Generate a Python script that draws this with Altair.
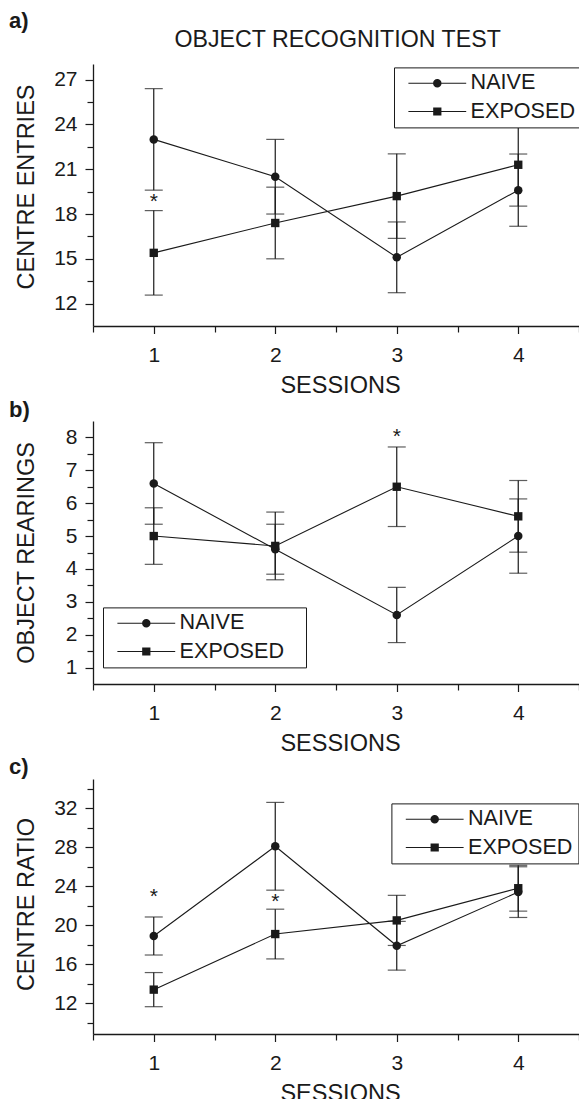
import altair as alt
import pandas as pd

# ---------------- data ----------------
sessions = [1, 2, 3, 4]
groups = ["NAIVE", "EXPOSED"]

# a) centre entries
a_naive_mean = [23.0, 20.5, 15.1, 19.6]
a_naive_err = [3.4, 2.5, 2.37, 2.42]
a_exposed_mean = [15.4, 17.4, 19.2, 21.3]
a_exposed_err = [2.83, 2.4, 2.83, 2.77]
a_star_session = [1]
a_star_value = [19.0]

# b) object rearings
b_naive_mean = [6.6, 4.6, 2.6, 5.0]
b_naive_err = [1.24, 0.76, 0.84, 1.13]
b_exposed_mean = [5.0, 4.7, 6.5, 5.6]
b_exposed_err = [0.86, 1.03, 1.21, 1.09]
b_star_session = [3]
b_star_value = [8.1]

# c) centre ratio
c_naive_mean = [18.9, 28.1, 17.9, 23.4]
c_naive_err = [1.95, 4.5, 2.5, 2.6]
c_exposed_mean = [13.4, 19.1, 20.5, 23.8]
c_exposed_err = [1.75, 2.55, 2.57, 2.35]
c_star_session = [1, 2]
c_star_value = [23.2, 22.6]

x_ticks = [0.5, 1, 1.5, 2, 2.5, 3, 3.5, 4, 4.5]
a_y_ticks = [12, 13.5, 15, 16.5, 18, 19.5, 21, 22.5, 24, 25.5, 27]
b_y_ticks = [1, 1.5, 2, 2.5, 3, 3.5, 4, 4.5, 5, 5.5, 6, 6.5, 7, 7.5, 8]
c_y_ticks = [10, 12, 14, 16, 18, 20, 22, 24, 26, 28, 30, 32, 34]

# ---------------- style ----------------
INK = "#1a1a1a"
FONT = "Liberation Sans"
W = 486

# legend keys: line - marker - line (filled shapes, unit = sqrt(size)/2 px)
CIRCLE_PATH = ("M-6.8,-0.13L-0.9,-0.13L-0.9,0.13L-6.8,0.13Z"
               "M0.9,-0.13L6.8,-0.13L6.8,0.13L0.9,0.13Z"
               "M1,0A1,1,0,1,1,-1,0A1,1,0,1,1,1,0Z")
SQUARE_PATH = ("M-6.8,-0.13L-0.9,-0.13L-0.9,0.13L-6.8,0.13Z"
               "M0.9,-0.13L6.8,-0.13L6.8,0.13L0.9,0.13Z"
               "M-0.97,-0.97L0.97,-0.97L0.97,0.97L-0.97,0.97Z")


def panel(naive_mean, naive_err, exp_mean, exp_err, star_s, star_v,
          ydomain, yticks, ymod, ytitle, title_y, height,
          legend_x, legend_y, label_pad, tag, tag_y, heading=None):
    df = pd.DataFrame({
        "session": sessions * 2,
        "group": [groups[0]] * 4 + [groups[1]] * 4,
        "mean": naive_mean + exp_mean,
        "err": naive_err + exp_err,
    })
    df["lo"] = df["mean"] - df["err"]
    df["hi"] = df["mean"] + df["err"]

    xsc = alt.Scale(domain=[0.5, 4.5], nice=False, zero=False)
    ysc = alt.Scale(domain=ydomain, nice=False, zero=False)

    x_axis = alt.Axis(
        values=x_ticks, title="SESSIONS",
        labelExpr="datum.value % 1 == 0 ? format(datum.value, 'd') : ''",
        tickSize={"condition": {"test": "datum.value % 1 != 0", "value": 6}, "value": 7.5},
        labelBaseline="alphabetic", labelPadding=28, labelOverlap=False,
        labelFlush=False,
        titleX=247, titleY=66, titleBaseline="alphabetic",
        titleAlign="center",
    )
    y_axis = alt.Axis(
        values=yticks, title=ytitle,
        labelExpr=f"datum.value % {ymod} == 0 ? format(datum.value, 'd') : ''",
        tickSize={"condition": {"test": f"datum.value % {ymod} != 0", "value": 6}, "value": 8},
        labelPadding=8, labelOverlap=False,
        titleX=-60, titleY=title_y, titleAngle=270, titleAlign="center",
        titleBaseline="alphabetic",
    )

    X = alt.X("session:Q", scale=xsc, axis=x_axis, title="SESSIONS")

    def Y(field):
        return alt.Y(field, scale=ysc, axis=y_axis, title=ytitle)

    base = alt.Chart(df)
    lines = base.mark_line(color=INK, strokeWidth=1.1).encode(
        x=X, y=Y("mean:Q"), detail="group:N")
    bars = base.mark_rule(color=INK, strokeWidth=1.2).encode(
        x=X, y=Y("lo:Q"), y2="hi:Q")
    cap_hi = base.mark_tick(orient="horizontal", size=18, thickness=1.2, color=INK).encode(
        x=X, y=Y("hi:Q"))
    cap_lo = base.mark_tick(orient="horizontal", size=18, thickness=1.2, color=INK).encode(
        x=X, y=Y("lo:Q"))
    pts_n = base.transform_filter(alt.datum.group == groups[0]).mark_point(
        shape="circle", filled=True, color=INK, size=72, opacity=1).encode(x=X, y=Y("mean:Q"))
    pts_e = base.transform_filter(alt.datum.group == groups[1]).mark_point(
        shape="square", filled=True, color=INK, size=70, opacity=1).encode(x=X, y=Y("mean:Q"))
    label_expr = f"datum.label + '{label_pad}'" if label_pad else "datum.label"
    leg = base.mark_point(filled=False, color=INK, fill=INK, stroke=INK, strokeWidth=0,
                          opacity=0).encode(
        x=X, y=Y("mean:Q"),
        shape=alt.Shape(
            "group:N",
            scale=alt.Scale(domain=groups, range=[CIRCLE_PATH, SQUARE_PATH]),
            legend=alt.Legend(
                orient="none", legendX=legend_x, legendY=legend_y, title=None,
                direction="vertical", padding=5, strokeColor=INK, fillColor="white",
                labelFont=FONT, labelFontSize=21.6, labelColor=INK, labelOffset=22.5,
                rowPadding=5.3, symbolSize=72.25, symbolStrokeWidth=0,
                symbolOffset=27.5, symbolOpacity=1, symbolFillColor=INK,
                symbolStrokeColor=INK, labelExpr=label_expr,
                cornerRadius=0,
            )))

    stars = alt.Chart(pd.DataFrame({"session": star_s, "value": star_v})).mark_text(
        text="*", font=FONT, fontSize=21, baseline="alphabetic", dy=8.5, color=INK
    ).encode(x=X, y=Y("value:Q"))

    tag_df = pd.DataFrame({"t": [tag]})
    tag_mark = alt.Chart(tag_df).mark_text(
        font=FONT, fontSize=22, fontWeight="bold", align="left", baseline="alphabetic",
        color=INK
    ).encode(text="t:N", x=alt.value(-84), y=alt.value(tag_y))

    layers = [lines, bars, cap_hi, cap_lo, pts_n, pts_e, stars, leg, tag_mark]
    if heading:
        head = alt.Chart(pd.DataFrame({"t": [heading]})).mark_text(
            font=FONT, fontSize=23.2, align="center", baseline="alphabetic", color=INK
        ).encode(text="t:N", x=alt.value(244.6), y=alt.value(-16.6))
        layers.append(head)

    return alt.layer(*layers).properties(width=W, height=height)


pa = panel(a_naive_mean, a_naive_err, a_exposed_mean, a_exposed_err,
           a_star_session, a_star_value, [10.5, 28.05], a_y_ticks, 3,
           "CENTRE ENTRIES", 122.5, 262, 301, 3.4, "", "a)", -36.2,
           heading="OBJECT RECOGNITION TEST")
pb = panel(b_naive_mean, b_naive_err, b_exposed_mean, b_exposed_err,
           b_star_session, b_star_value, [0.5, 8.5], b_y_ticks, 1,
           "OBJECT REARINGS", 131.4, 263, 10, 186.4, "\u2800", "b)", -4.5)
pc = panel(c_naive_mean, c_naive_err, c_exposed_mean, c_exposed_err,
           c_star_session, c_star_value, [8.85, 35], c_y_ticks, 4,
           "CENTRE RATIO", 125, 255, 298.4, 24.4, "", "c)", -5.5)

chart = alt.vconcat(pa, pb, pc, spacing=95, bounds="flush").resolve_scale(
    shape="independent").resolve_legend(shape="independent").properties(
    padding={"left": 1, "top": 1, "right": -3.5, "bottom": 0}
).configure_view(stroke=None).configure_axis(
    domainColor=INK, domainWidth=1.3, tickColor=INK, tickWidth=1.2,
    labelFont=FONT, labelFontSize=21, labelColor=INK,
    titleFont=FONT, titleFontSize=23.5, titleFontWeight="normal", titleColor=INK,
    grid=False,
).configure_legend(strokeWidth=1)

chart.save("out.html", embed_options={"renderer": "svg", "actions": False})
